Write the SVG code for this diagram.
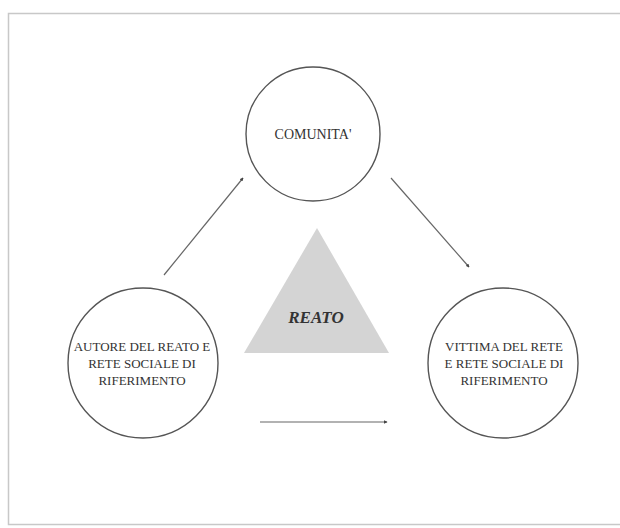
<svg xmlns="http://www.w3.org/2000/svg" width="620" height="528" viewBox="0 0 620 528">
<defs>
<style>
.node circle{fill:#fff;stroke:#555;stroke-width:1.4}
.lbl{font-family:"Liberation Serif","Times New Roman",serif;font-size:13px;fill:#333;text-anchor:middle}
.conn line{stroke:#666;stroke-width:1.2;marker-end:url(#ah)}
</style>
<marker id="ah" viewBox="0 0 6 6" refX="5" refY="3" markerWidth="3" markerHeight="3" orient="auto" markerUnits="strokeWidth">
<path d="M0,0 L6,3 L0,6 z" fill="#444"/>
</marker>
</defs>
<rect x="0" y="0" width="620" height="528" fill="#fff"/>
<rect x="8.5" y="13.5" width="620" height="511" fill="#fff" stroke="#c8c8c8" stroke-width="1.5"/>
<g id="reato">
<polygon points="317,228 244,353 389,353" fill="#d4d4d4"/>
<text x="316" y="323" style="font-family:'Liberation Serif','Times New Roman',serif;font-size:17px;font-weight:bold;font-style:italic;fill:#333;text-anchor:middle">REATO</text>
</g>
<g id="comunita" class="node">
<circle cx="313" cy="134" r="67"/>
<text class="lbl" x="313" y="139" style="font-size:14px">COMUNITA'</text>
</g>
<g id="autore" class="node">
<circle cx="143" cy="363" r="75"/>
<text class="lbl" x="142" y="351">AUTORE DEL REATO E</text>
<text class="lbl" x="142" y="368">RETE SOCIALE DI</text>
<text class="lbl" x="142" y="385">RIFERIMENTO</text>
</g>
<g id="vittima" class="node">
<circle cx="503" cy="363" r="75"/>
<text class="lbl" x="504" y="351">VITTIMA DEL RETE</text>
<text class="lbl" x="504" y="368">E RETE SOCIALE DI</text>
<text class="lbl" x="504" y="385">RIFERIMENTO</text>
</g>
<g id="connectors" class="conn">
<line x1="164" y1="275" x2="243" y2="178"/>
<line x1="391" y1="178" x2="469" y2="267"/>
<line x1="260" y1="422" x2="387" y2="422"/>
</g>
</svg>
